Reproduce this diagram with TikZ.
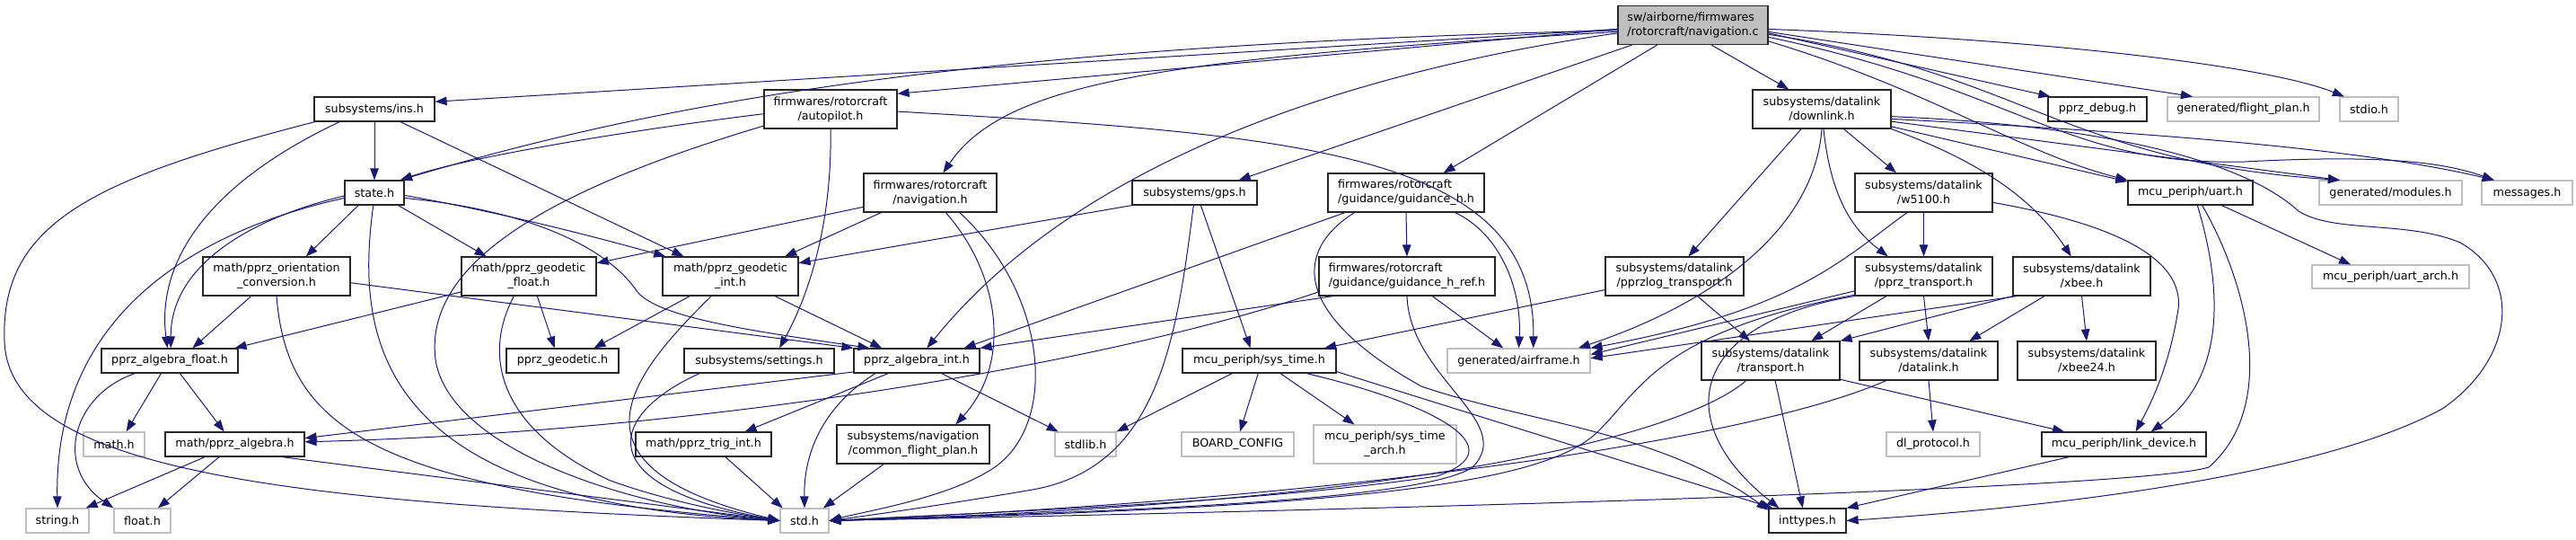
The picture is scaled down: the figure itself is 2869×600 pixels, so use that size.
\documentclass[tikz,border=0pt]{standalone}
\usepackage{fontspec}
\setmainfont{DejaVu Sans}
\usepackage{xcolor}
\usetikzlibrary{arrows.meta}
\definecolor{edgeblue}{HTML}{191970}
\definecolor{grey75}{HTML}{BFBFBF}

\begin{document}
\begin{tikzpicture}[x=1pt,y=-1pt,
  font=\fontsize{12.7}{16}\selectfont, >={Triangle[length=13pt,width=9.5pt]},
  hdr/.style={draw=black!85,line width=1.2pt,fill=white,inner sep=2pt,minimum height=27pt,align=center},
  ext/.style={hdr,draw=grey75},
  two/.style={minimum height=43pt},
  dep/.style={->,draw=edgeblue,line width=1pt}]
\useasboundingbox (0,0) rectangle (2869,600);

% top file
\node[hdr,two,fill=grey75,align=left,minimum width=167pt] (root) at (1885.5,28) {sw/airborne/firmwares\\/rotorcraft/navigation.c};

% first level
\node[hdr,minimum width=134pt] (ins) at (417,121.5) {subsystems/ins.h};
\node[hdr,two,minimum width=148pt] (autopilot) at (925,121.5) {firmwares/rotorcraft\\/autopilot.h};
\node[hdr,two,minimum width=154pt] (downlink) at (2029,121.5) {subsystems/datalink\\/downlink.h};
\node[hdr,minimum width=110pt] (debug) at (2336,121.5) {pprz\_debug.h};
\node[ext,minimum width=169pt] (flightplan) at (2498.5,121.5) {generated/flight\_plan.h};
\node[ext,minimum width=65pt] (stdio) at (2638.5,121.5) {stdio.h};

% second level
\node[hdr,minimum width=66pt] (state) at (417,214.5) {state.h};
\node[hdr,two,minimum width=148pt] (navh) at (1036,214.5) {firmwares/rotorcraft\\/navigation.h};
\node[hdr,minimum width=139pt] (gps) at (1330.5,214.5) {subsystems/gps.h};
\node[hdr,two,align=left,minimum width=174pt] (guidh) at (1566,214.5) {firmwares/rotorcraft\\/guidance/guidance\_h.h};
\node[hdr,two,minimum width=153pt] (w5100) at (2142.5,214.5) {subsystems/datalink\\/w5100.h};
\node[hdr,minimum width=139pt] (uart) at (2439.5,214.5) {mcu\_periph/uart.h};
\node[ext,minimum width=159pt] (modules) at (2662.5,214.5) {generated/modules.h};
\node[ext,minimum width=101pt] (messages) at (2814.5,214.5) {messages.h};

% third level
\node[hdr,two,minimum width=164pt] (orient) at (308,307.5) {math/pprz\_orientation\\\_conversion.h};
\node[hdr,two,minimum width=150pt] (geofloat) at (589,307.5) {math/pprz\_geodetic\\\_float.h};
\node[hdr,two,minimum width=151pt] (geoint) at (813.5,307.5) {math/pprz\_geodetic\\\_int.h};
\node[hdr,two,align=left,minimum width=196pt] (guidref) at (1567,307.5) {firmwares/rotorcraft\\/guidance/guidance\_h\_ref.h};
\node[hdr,two,minimum width=154pt] (pprzlog) at (1865,307.5) {subsystems/datalink\\/pprzlog\_transport.h};
\node[hdr,two,minimum width=153pt] (pprztr) at (2142.5,307.5) {subsystems/datalink\\/pprz\_transport.h};
\node[hdr,two,minimum width=153pt] (xbee) at (2318.5,307.5) {subsystems/datalink\\/xbee.h};
\node[ext,minimum width=175pt,minimum height=26pt] (uartarch) at (2662.5,308) {mcu\_periph/uart\_arch.h};

% fourth level
\node[hdr,minimum width=152pt] (algfloat) at (189,401.5) {pprz\_algebra\_float.h};
\node[hdr,minimum width=125pt] (geodetic) at (626.5,401.5) {pprz\_geodetic.h};
\node[hdr,minimum width=167pt] (settings) at (845.5,401.5) {subsystems/settings.h};
\node[hdr,minimum width=140pt] (algint) at (1021,401.5) {pprz\_algebra\_int.h};
\node[hdr,minimum width=171pt] (systime) at (1402.5,401.5) {mcu\_periph/sys\_time.h};
\node[ext,minimum width=159pt] (airframe) at (1691.5,401.5) {generated/airframe.h};
\node[hdr,two,minimum width=154pt] (transport) at (1972,401.5) {subsystems/datalink\\/transport.h};
\node[hdr,two,minimum width=154pt] (datalink) at (2148,401.5) {subsystems/datalink\\/datalink.h};
\node[hdr,two,minimum width=154pt] (xbee24) at (2324,401.5) {subsystems/datalink\\/xbee24.h};

% fifth level
\node[ext,minimum width=68pt] (math) at (127,494.5) {math.h};
\node[hdr,minimum width=155pt] (alg) at (261.5,494.5) {math/pprz\_algebra.h};
\node[hdr,minimum width=151pt] (trig) at (783.5,494.5) {math/pprz\_trig\_int.h};
\node[hdr,two,minimum width=170pt] (cfp) at (1017,494.5) {subsystems/navigation\\/common\_flight\_plan.h};
\node[ext,minimum width=68pt] (stdlib) at (1209,494.5) {stdlib.h};
\node[ext,minimum width=125pt] (board) at (1378.5,494.5) {BOARD\_CONFIG};
\node[ext,two,minimum width=159pt] (systimearch) at (1542.5,494.5) {mcu\_periph/sys\_time\\\_arch.h};
\node[ext,minimum width=104pt] (dlproto) at (2153,494.5) {dl\_protocol.h};
\node[hdr,minimum width=183pt] (linkdev) at (2365.5,494.5) {mcu\_periph/link\_device.h};

% bottom level
\node[ext,minimum width=70pt] (string) at (64,579.5) {string.h};
\node[ext,minimum width=63pt] (float) at (158.5,579.5) {float.h};
\node[ext,minimum width=54pt] (std) at (896,579.5) {std.h};
\node[hdr,minimum width=86pt] (inttypes) at (2013,579.5) {inttypes.h};

% from navigation.c
\draw[dep] (root.183) -- (ins.7);
\draw[dep] (root.183) -- (autopilot.13);
\draw[dep] (root.184) .. controls (1100,50) and (750,110) .. (state.26);
\draw[dep] (root.185) .. controls (1300,65) and (1120,90) .. (navh.57);
\draw[dep] (root.186) .. controls (1500,80) and (1200,180) .. (algint.51);
\draw[dep] (root.198) -- (gps.16);
\draw[dep] (root.209) -- (guidh.28);
\draw[dep] (root.313) -- (downlink.149);
\draw[dep] (root.357) .. controls (2300,45) and (2530,75) .. (stdio.153);
\draw[dep] (root.355) -- (flightplan.166);
\draw[dep] (root.354) -- (debug.165);
\draw[dep] (root.353) .. controls (2250,80) and (2300,180) .. (modules.166);
\draw[dep] (root.351) .. controls (2250,100) and (2300,185) .. (2500,180) .. controls (2650,172) and (2720,180) .. (messages.159);
\draw[dep] (root.348) .. controls (2150,100) and (2250,170) .. (uart.north west);

% from downlink.h
\draw[dep] (downlink.224) -- (pprzlog.55);
\draw[dep] (downlink.south) .. controls (2020,260) and (1900,340) .. (airframe.12);
\draw[dep] (downlink.275) .. controls (2040,230) and (2070,260) .. (pprztr.151);
\draw[dep] (downlink.318) -- (w5100.144);
\draw[dep] (downlink.south east) .. controls (2220,185) and (2270,230) .. (xbee.118);
\draw[dep] (downlink.346) -- (uart.170);
\draw[dep] (downlink.350) -- (modules.166);
\draw[dep] (downlink.352) .. controls (2450,150) and (2650,170) .. (messages.159);
\draw[dep] (downlink.354) .. controls (2350,140) and (2500,180) .. (2560,235)
  .. controls (2600,260) and (2680,245) .. (2740,270)
  .. controls (2810,310) and (2800,400) .. (2720,455)
  .. controls (2600,520) and (2350,560) .. (inttypes.east);

% datalink headers
\draw[dep] (w5100.south) -- (pprztr.north);
\draw[dep] (w5100.352) .. controls (2330,245) and (2440,280) .. (2425,350) .. controls (2415,410) and (2395,450) .. (linkdev.47);
\draw[dep] (w5100.230) .. controls (2050,290) and (2000,345) .. (airframe.10);
\draw[dep] (pprztr.208) -- (transport.26);
\draw[dep] (pprztr.south) -- (datalink.north);
\draw[dep] (pprztr.192) -- (airframe.5);
\draw[dep] (pprztr.196) .. controls (1880,360) and (1860,470) .. (inttypes.156);
\draw[dep] (pprztr.195) .. controls (1850,370) and (1830,430) .. (1780,480) .. controls (1720,540) and (1500,565) .. (std.east);
\draw[dep] (xbee.south west) -- (transport.north east);
\draw[dep] (xbee.208) -- (datalink.26);
\draw[dep] (xbee.south) -- (xbee24.north);
\draw[dep] (xbee.197) -- (airframe.2);
\draw[dep] (transport.345) -- (linkdev.168);
\draw[dep] (transport.283) -- (inttypes.110);
\draw[dep] (transport.219) .. controls (1880,480) and (1600,560) .. (std.east);
\draw[dep] (datalink.south) -- (dlproto.north);
\draw[dep] (datalink.205) .. controls (1950,490) and (1500,555) .. (std.east);
\draw[dep] (linkdev.193) -- (inttypes.north east);
\draw[dep] (pprzlog.191) -- (systime.11);
\draw[dep] (pprzlog.319) -- (transport.136);

% uart
\draw[dep] (uart.338) -- (uartarch.163);
\draw[dep] (uart.299) .. controls (2475,320) and (2480,420) .. (linkdev.25);
\draw[dep] (uart.313) .. controls (2500,310) and (2540,450) .. (2460,520) .. controls (2380,545) and (1500,568) .. (std.east);

% sys_time
\draw[dep] (systime.205) -- (stdlib.north east);
\draw[dep] (systime.265) -- (board.80);
\draw[dep] (systime.329) -- (systimearch.147);
\draw[dep] (systime.352) -- (inttypes.160);
\draw[dep] (systime.345) .. controls (1600,450) and (1690,500) .. (1600,530) .. controls (1400,560) and (1100,570) .. (std.east);

% guidance
\draw[dep] (guidh.198) -- (algint.15);
\draw[dep] (guidh.south) -- (guidref.north);
\draw[dep] (guidh.338) .. controls (1670,260) and (1695,320) .. (airframe.north);
\draw[dep] (guidh.201) .. controls (1440,280) and (1440,350) .. (1583,430) .. controls (1700,470) and (1850,480) .. (inttypes.165);
\draw[dep] (guidref.195) -- (algint.north east);
\draw[dep] (guidref.190) .. controls (1250,400) and (800,480) .. (alg.2);
\draw[dep] (guidref.322) -- (airframe.141);
\draw[dep] (guidref.south) .. controls (1570,420) and (1690,470) .. (1640,520) .. controls (1580,560) and (1200,570) .. (std.east);

% gps, navigation
\draw[dep] (gps.south west) -- (geoint.11);
\draw[dep] (gps.265) .. controls (1310,380) and (1290,520) .. (1150,545) .. controls (1050,562) and (980,572) .. (std.east);
\draw[dep] (gps.296) -- (systime.125);
\draw[dep] (navh.192) -- (geofloat.11);
\draw[dep] (navh.202) -- (geoint.20);
\draw[dep] (navh.308) .. controls (1110,300) and (1130,400) .. (cfp.25);
\draw[dep] (navh.326) .. controls (1170,330) and (1180,480) .. (1100,525) .. controls (1050,555) and (960,570) .. (std.east);
\draw[dep] (cfp.214) -- (std.34);

% autopilot, settings
\draw[dep] (autopilot.184) .. controls (700,145) and (520,175) .. (state.26);
\draw[dep] (autopilot.194) .. controls (650,200) and (470,280) .. (485,400) .. controls (500,500) and (700,565) .. (std.west);
\draw[dep] (autopilot.south) .. controls (927,250) and (900,330) .. (settings.32);
\draw[dep] (autopilot.358) .. controls (1450,150) and (1710,170) .. (airframe.41);
\draw[dep] (settings.192) .. controls (680,460) and (650,540) .. (std.west);

% math
\draw[dep] (algint.190) -- (alg.5);
\draw[dep] (algint.204) -- (trig.17);
\draw[dep] (algint.197) .. controls (920,450) and (895,500) .. (std.north);
\draw[dep] (algint.333) -- (stdlib.155);
\draw[dep] (trig.330) -- (std.150);
\draw[dep] (alg.203) -- (string.24);
\draw[dep] (alg.219) -- (float.39);
\draw[dep] (alg.345) -- (std.west);
\draw[dep] (algfloat.236) -- (math.46);
\draw[dep] (algfloat.309) -- (alg.130);
\draw[dep] (algfloat.200) .. controls (80,440) and (60,520) .. (float.north west);
\draw[dep] (orient.218) -- (algfloat.29);
\draw[dep] (orient.south) .. controls (320,480) and (420,545) .. (std.west);
\draw[dep] (orient.355) -- (algint.north west);
\draw[dep] (geofloat.293) -- (geodetic.122);
\draw[dep] (geofloat.233) .. controls (535,400) and (560,480) .. (680,535) .. controls (750,560) and (820,572) .. (std.west);
\draw[dep] (geofloat.193) -- (algfloat.11);
\draw[dep] (geoint.206) -- (geodetic.22);
\draw[dep] (geoint.226) .. controls (700,420) and (620,520) .. (std.west);
\draw[dep] (geoint.336) -- (algint.160);

% state, ins
\draw[dep] (state.218) -- (orient.34);
\draw[dep] (state.265) .. controls (395,380) and (420,560) .. (std.west);
\draw[dep] (state.186) .. controls (290,240) and (190,290) .. (algfloat.85);
\draw[dep] (state.190) .. controls (250,250) and (60,330) .. (string.north);
\draw[dep] (state.332) -- (geofloat.155);
\draw[dep] (state.355) .. controls (550,235) and (650,260) .. (geoint.163);
\draw[dep] (state.350) .. controls (600,235) and (680,280) .. (710,325) .. controls (735,355) and (850,370) .. (algint.165);
\draw[dep] (ins.south) -- (state.north);
\draw[dep] (ins.192) .. controls (100,200) and (0,250) .. (5,380) .. controls (10,520) and (300,560) .. (std.west);
\draw[dep] (ins.200) .. controls (220,210) and (175,300) .. (algfloat.100);
\draw[dep] (ins.334) -- (geoint.157);
\end{tikzpicture}
\end{document}
